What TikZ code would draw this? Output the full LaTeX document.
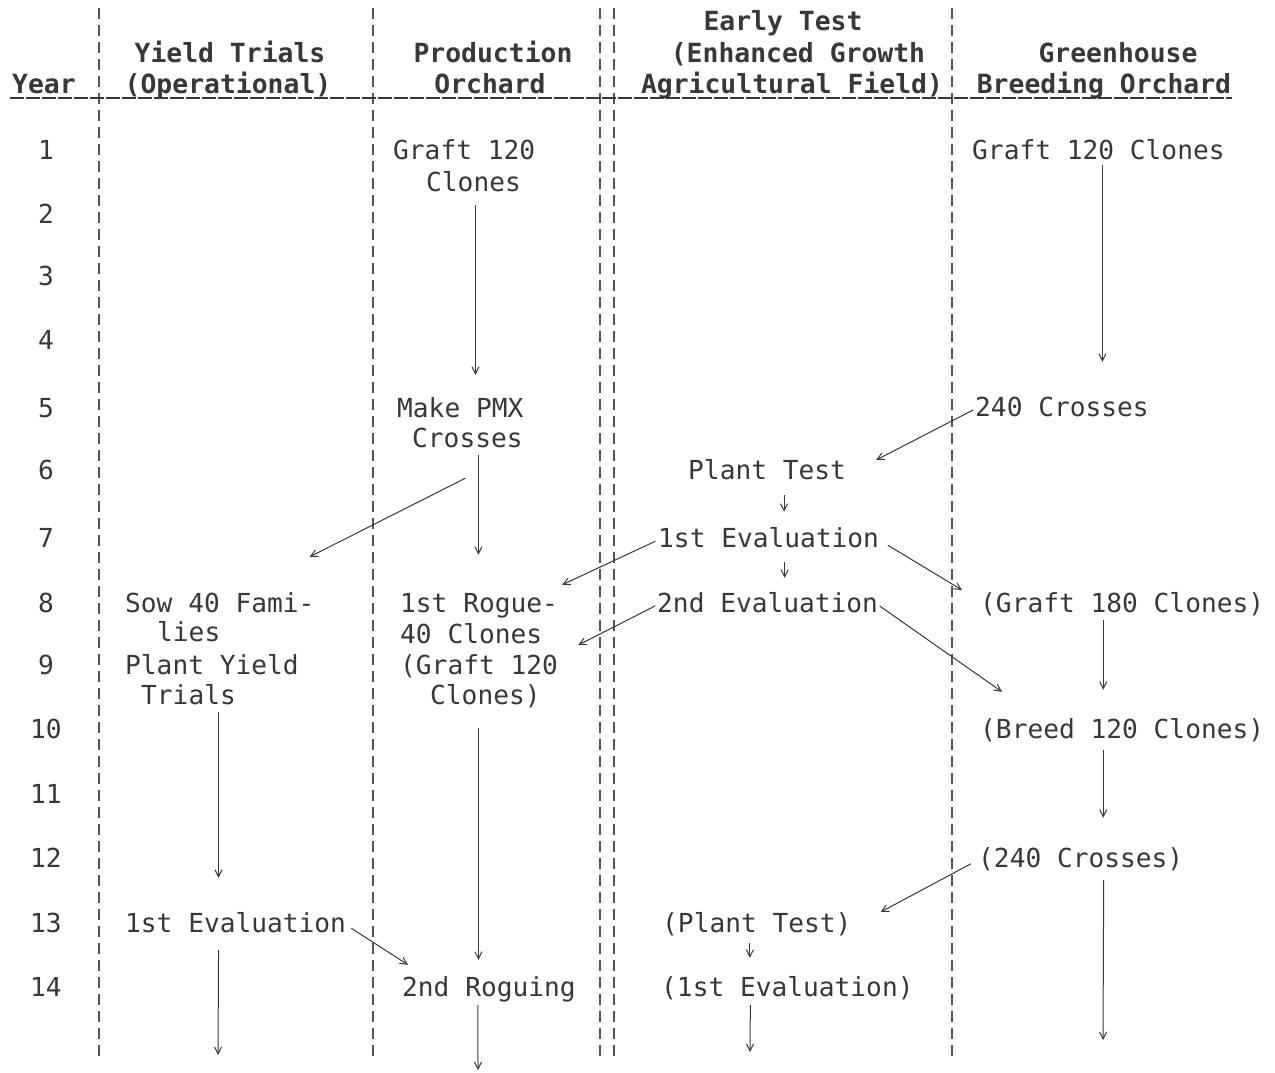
\documentclass[tikz,border=0pt]{standalone}
\usepackage{fontspec}
\newfontfamily\tw{DejaVu Sans Mono}
\usetikzlibrary{arrows.meta}
\definecolor{ink}{HTML}{383838}
\definecolor{rulec}{HTML}{555555}
\begin{document}
\begin{tikzpicture}[x=1pt,y=-1pt,
  t/.style={inner sep=0pt, anchor=base west, font=\tw\fontsize{26.2}{30}\selectfont, text=ink, text height=19pt, text depth=5pt},
  hd/.style={t, anchor=base, font=\tw\bfseries\fontsize{26.4}{30}\selectfont},
  yr/.style={t, anchor=base},
  arr/.style={draw=ink, line width=1pt, -{Straight Barb[length=7pt,width=7pt]}},
  sepline/.style={draw=rulec, line width=1.4pt, dash pattern=on 11pt off 6pt}]
\fill[white] (0,0) rectangle (1275,1072);
\useasboundingbox (0,0) rectangle (1275,1072);

% column separators
\draw[sepline] (99,8) -- (99,1062);
\draw[sepline] (373,8) -- (373,1062);
\draw[sepline] (600,8) -- (600,1062);
\draw[sepline] (614,8) -- (614,1062);
\draw[sepline] (952,8) -- (952,1062);
% header underline
\draw[draw=ink, line width=1.3pt, dash pattern=on 14pt off 2pt] (10,98) -- (1232,98);

% headers
\node[hd, anchor=base west] (hyear) at (12,93) {Year};
\node[hd] (hy1) at (230,62) {Yield Trials};
\node[hd] (hy2) at (228,93) {(Operational)};
\node[hd] (hp1) at (493,62) {Production};
\node[hd] (hp2) at (490,93) {Orchard};
\node[hd] (he1) at (783,30) {Early Test};
\node[hd] (he2) at (798,62) {(Enhanced Growth};
\node[hd] (he3) at (792,93) {Agricultural Field)};
\node[hd] (hg1) at (1118,62) {Greenhouse};
\node[hd] (hg2) at (1104,93) {Breeding Orchard};

% years
\foreach \n/\yy in {1/159,2/223,3/285,4/349,5/417,6/479,7/547,8/612,9/674,10/738,11/803,12/867,13/932,14/996}
  \node[yr] (y\n) at (46,\yy) {\n};

% production orchard
\node[t] (p1a) at (393,159) {Graft 120};
\node[t] (p1b) at (426,191) {Clones};
\node[t] (p2a) at (397,417) {Make PMX};
\node[t] (p2b) at (412,447) {Crosses};
\node[t] (p3a) at (400,612) {1st Rogue-};
\node[t] (p3b) at (400,643) {40 Clones};
\node[t] (p3c) at (400,674) {(Graft 120};
\node[t] (p3d) at (430,704) {Clones)};
\node[t] (p4) at (402,996) {2nd Roguing};
\coordinate (pend) at (478,1070);

% yield trials
\node[t] (ya) at (125,612) {Sow 40 Fami-};
\node[t] (yb) at (157,641) {lies};
\node[t] (yc) at (125,674) {Plant Yield};
\node[t] (yd) at (141,704) {Trials};
\node[t] (ye) at (125,932) {1st Evaluation};
\coordinate (yend) at (218,1055);

% early test
\node[t] (e1) at (688,479) {Plant Test};
\node[t] (e2) at (658,547) {1st Evaluation};
\node[t] (e3) at (657,612) {2nd Evaluation};
\node[t] (e4) at (662,932) {(Plant Test)};
\node[t] (e5) at (661,996) {(1st Evaluation)};
\coordinate (eend) at (750,1052);

% greenhouse
\node[t] (g1) at (972,159) {Graft 120 Clones};
\node[t] (g2) at (975,416) {240 Crosses};
\node[t] (g3) at (980,612) {(Graft 180 Clones)};
\node[t] (g4) at (980,738) {(Breed 120 Clones)};
\node[t] (g5) at (978,867) {(240 Crosses)};
\coordinate (gend) at (1103,1040);

% production arrows
\draw[arr, shorten <=9pt, shorten >=23pt] ([xshift=2pt]p1b.south) -- ([xshift=2pt]p1b.south |- p2a.north);
\draw[arr, shorten <=3pt, shorten >=38pt] ([xshift=11pt]p2b.south) -- ([xshift=11pt]p2b.south |- p3a.north);
\draw[arr] ([shift={(-2pt,-26pt)}]p2b.south) -- ([shift={(-5pt,36pt)}]ya.north east);
\draw[arr, shorten <=19pt, shorten >=17pt] ([xshift=-7pt]p3d.south) -- ([xshift=-7pt]p3d.south |- p4.north);
\draw[arr, shorten <=4pt] ([xshift=-11pt]p4.south) -- (pend);

% yield arrows
\draw[arr, shorten <=3pt, shorten >=35pt] ([xshift=30pt]yd.south) -- ([xshift=30pt]yd.south |- ye.north);
\draw[arr, shorten <=13pt] ([xshift=-17pt]ye.south) -- (yend);
\draw[arr, shorten <=6pt] (ye.east) -- ([shift={(6pt,12pt)}]p4.north west);

% early test arrows
\draw[arr, shorten <=11pt, shorten >=16pt] ([xshift=17pt]e1.south) -- ([xshift=17pt]e1.south |- e2.north);
\draw[arr, shorten <=10pt, shorten >=15pt] ([xshift=16pt]e2.south) -- ([xshift=16pt]e2.south |- e3.north);
\draw[arr, shorten <=3pt] (e2.west) -- ([shift={(4pt,8pt)}]p3a.north east);
\draw[arr, shorten <=2pt] (e3.west) -- ([shift={(36pt,-9pt)}]p3b.east);
\draw[arr, shorten <=10pt] (e2.east) -- ([shift={(-18pt,15pt)}]g3.west);
\draw[arr, shorten <=2pt] (e3.east) -- ([shift={(22pt,27pt)}]g4.north west);
\draw[arr, shorten <=6pt, shorten >=19pt] ([xshift=-7pt]e4.south) -- ([xshift=-7pt]e4.south |- e5.north);
\draw[arr, shorten <=4pt] ([xshift=-37pt]e5.south) -- (eend);

% greenhouse arrows
\draw[arr, shorten <=1pt, shorten >=35pt] ([xshift=4pt]g1.south) -- ([xshift=4pt]g1.south |- g2.north);
\draw[arr, shorten <=2pt] (g2.west) -- ([shift={(30pt,12pt)}]e1.east);
\draw[arr, shorten <=3pt, shorten >=29pt] ([xshift=-19pt]g3.south) -- ([xshift=-19pt]g3.south |- g4.north);
\draw[arr, shorten <=7pt, shorten >=30pt] ([xshift=-19pt]g4.south) -- ([xshift=-19pt]g4.south |- g5.north);
\draw[arr, shorten <=8pt] (g5.west) -- ([shift={(29pt,13pt)}]e4.east);
\draw[arr, shorten <=8pt] ([xshift=23pt]g5.south) -- (gend);
\end{tikzpicture}
\end{document}
